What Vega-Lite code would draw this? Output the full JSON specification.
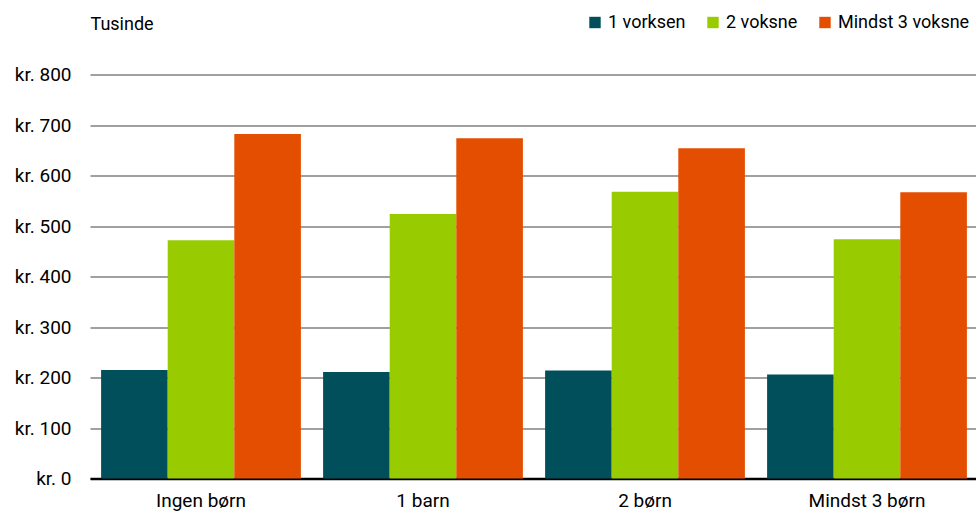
{
  "$schema": "https://vega.github.io/schema/vega-lite/v6.json",
  "width": 888,
  "height": 404,
  "autosize": {"type": "none"},
  "padding": {"left": 90, "top": 74.5, "right": 0, "bottom": 36.5},
  "background": "white",
  "config": {
    "view": {"stroke": null},
    "font": "Roboto",
    "axis": {"labelFont": "Roboto", "titleFont": "Roboto"},
    "legend": {"labelFont": "Roboto"}
  },
  "data": {
    "values": [
      {"gruppe": "Ingen børn", "husstand": "1 vorksen", "værdi": 215},
      {"gruppe": "Ingen børn", "husstand": "2 voksne", "værdi": 472},
      {"gruppe": "Ingen børn", "husstand": "Mindst 3 voksne", "værdi": 682},
      {"gruppe": "1 barn", "husstand": "1 vorksen", "værdi": 211},
      {"gruppe": "1 barn", "husstand": "2 voksne", "værdi": 524},
      {"gruppe": "1 barn", "husstand": "Mindst 3 voksne", "værdi": 674},
      {"gruppe": "2 børn", "husstand": "1 vorksen", "værdi": 214},
      {"gruppe": "2 børn", "husstand": "2 voksne", "værdi": 568},
      {"gruppe": "2 børn", "husstand": "Mindst 3 voksne", "værdi": 654},
      {"gruppe": "Mindst 3 børn", "husstand": "1 vorksen", "værdi": 206},
      {"gruppe": "Mindst 3 børn", "husstand": "2 voksne", "værdi": 474},
      {"gruppe": "Mindst 3 børn", "husstand": "Mindst 3 voksne", "værdi": 567}
    ]
  },
  "mark": {"type": "bar"},
  "encoding": {
    "x": {
      "field": "gruppe",
      "type": "nominal",
      "sort": ["Ingen børn", "1 barn", "2 børn", "Mindst 3 børn"],
      "scale": {"paddingInner": 0.1, "paddingOuter": 0.05},
      "axis": {
        "title": null,
        "labelAngle": 0,
        "labelFontSize": 19,
        "labelColor": "#000000",
        "labelPadding": 13,
        "ticks": false,
        "domainColor": "#000000",
        "domainWidth": 2.5,
        "grid": false
      }
    },
    "xOffset": {
      "field": "husstand",
      "type": "nominal",
      "sort": ["1 vorksen", "2 voksne", "Mindst 3 voksne"],
      "scale": {"paddingInner": 0, "paddingOuter": 0}
    },
    "y": {
      "field": "værdi",
      "type": "quantitative",
      "scale": {"domain": [0, 800], "nice": false},
      "axis": {
        "values": [0, 100, 200, 300, 400, 500, 600, 700, 800],
        "labelExpr": "'kr. ' + datum.value",
        "labelFontSize": 19,
        "labelColor": "#000000",
        "labelPadding": 19,
        "ticks": false,
        "domain": false,
        "gridColor": "#a0a0a0",
        "gridWidth": 2,
        "title": "Tusinde",
        "titleAngle": 0,
        "titleAlign": "left",
        "titleBaseline": "middle",
        "titleX": 0,
        "titleY": -50,
        "titleFontSize": 18,
        "titleFontWeight": "normal",
        "titleColor": "#000000"
      }
    },
    "color": {
      "field": "husstand",
      "type": "nominal",
      "scale": {
        "domain": ["1 vorksen", "2 voksne", "Mindst 3 voksne"],
        "range": ["#004F5B", "#99CC00", "#E44E00"]
      },
      "legend": {
        "title": null,
        "orient": "none",
        "direction": "horizontal",
        "legendX": 496,
        "legendY": -61,
        "symbolType": "square",
        "symbolSize": 130,
        "symbolStrokeWidth": 0,
        "labelFontSize": 18,
        "labelColor": "#000000",
        "labelOffset": 4,
        "columnPadding": 18
      }
    }
  }
}
